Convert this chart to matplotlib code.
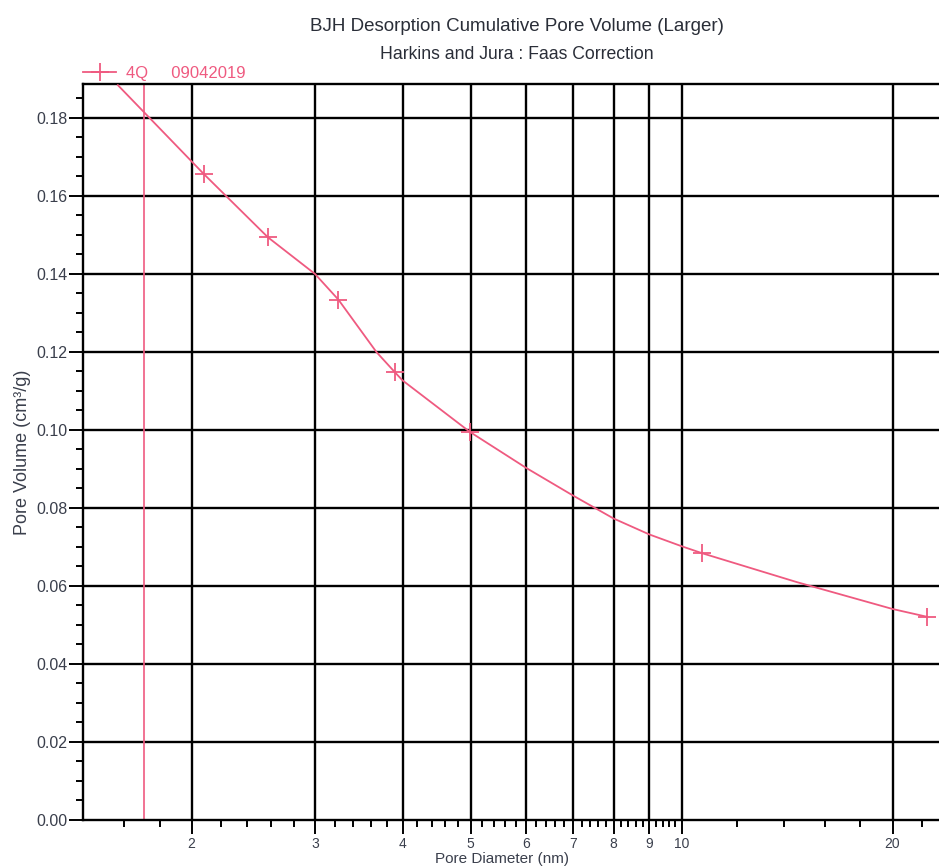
import numpy as np
import matplotlib
matplotlib.use('Agg')
from matplotlib import pyplot as plt
from matplotlib.ticker import FixedLocator, NullFormatter

plt.rcParams['font.family'] = ['Liberation Sans', 'DejaVu Sans']

# pore diameter (nm) / cumulative pore volume (cm3/g)
diameter = [1.57, 2.08, 2.57, 3.0, 3.24, 3.67, 3.90, 4.0, 4.99,
            6.0, 7.0, 8.0, 9.0, 10.0, 10.7, 14.6, 20.0, 22.4]
volume = [0.1884, 0.1657, 0.1494, 0.1400, 0.1334, 0.1200, 0.1148, 0.1127, 0.0995,
          0.0903, 0.0832, 0.0773, 0.0732, 0.0702, 0.0684, 0.0610, 0.0541, 0.0521]
marked = [1, 2, 4, 6, 8, 14, 17]   # points drawn with a + marker
ref_line = 1.71                    # pink vertical line

xmajor = [2, 3, 4, 5, 6, 7, 8, 9, 10, 20]
xmajor_labels = ['2', '3', '4', '5', '6', '7', '8', '9', '10', '20']
yticks = [0.00, 0.02, 0.04, 0.06, 0.08, 0.10, 0.12, 0.14, 0.16, 0.18]

pink = '#ef5a80'
lab = '#3a3f4c'

fig = plt.figure(figsize=(9.39, 8.68), dpi=100)
ax = fig.add_axes([83/939, 1 - 820/868, 1 - 83/939, (820 - 84)/868])

ax.set_xscale('log')
ax.set_xlim(1.40, 23.3)
ax.set_ylim(0, 0.1887)

# grid
for v in xmajor:
    ax.axvline(v, color='black', lw=1.7, zorder=1)
for v in yticks[1:]:
    ax.axhline(v, color='black', lw=1.7, zorder=1)
ax.axvline(ref_line, color=pink, lw=1.2, zorder=2)

ax.plot(diameter, volume, color=pink, lw=1.3, marker='+', markevery=marked,
        ms=13, mew=1.3, zorder=3, label='4Q     09042019')

# ticks
minor_x = [round(v, 1) for v in np.arange(1.6, 10.0, 0.2)] + [12, 14, 16, 18, 22]
minor_x = [v for v in minor_x if v not in xmajor]
ax.xaxis.set_major_locator(FixedLocator(xmajor))
ax.xaxis.set_minor_locator(FixedLocator(minor_x))
ax.set_xticklabels(xmajor_labels)
ax.xaxis.set_minor_formatter(NullFormatter())
ax.set_yticks(yticks)
ax.set_yticklabels(['%.2f' % v for v in yticks])
ax.yaxis.set_minor_locator(FixedLocator([v + 0.005 * k for v in yticks for k in (1, 2, 3)]))
ax.tick_params(which='major', direction='out', length=10, width=1.4, color='black',
               labelsize=11.5, labelcolor=lab, pad=1)
ax.tick_params(which='minor', direction='out', length=5, width=1.4, color='black')
ax.tick_params(axis='x', which='major', labelsize=10, pad=2)

for s in ['left', 'bottom', 'top']:
    ax.spines[s].set_linewidth(1.7)
ax.spines['right'].set_visible(False)

ax.set_xlabel('Pore Diameter (nm)', fontsize=11, color=lab)
ax.xaxis.set_label_coords(0.49, -0.043)
ax.set_ylabel('Pore Volume (cm³/g)', fontsize=13, color=lab, labelpad=4)

fig.text(0.550, 0.969, 'BJH Desorption Cumulative Pore Volume (Larger)', ha='center',
         va='center', fontsize=13.5, color='#2a2e38')
fig.text(0.550, 0.937, 'Harkins and Jura : Faas Correction', ha='center', va='center',
         fontsize=12.7, color='#2a2e38')

ax.legend(loc='lower left', bbox_to_anchor=(0.0, 1.004), frameon=False, fontsize=12,
          labelcolor=pink, handlelength=2.0, handletextpad=0.6, borderpad=0,
          borderaxespad=0)

fig.savefig('out.png', dpi=100)
